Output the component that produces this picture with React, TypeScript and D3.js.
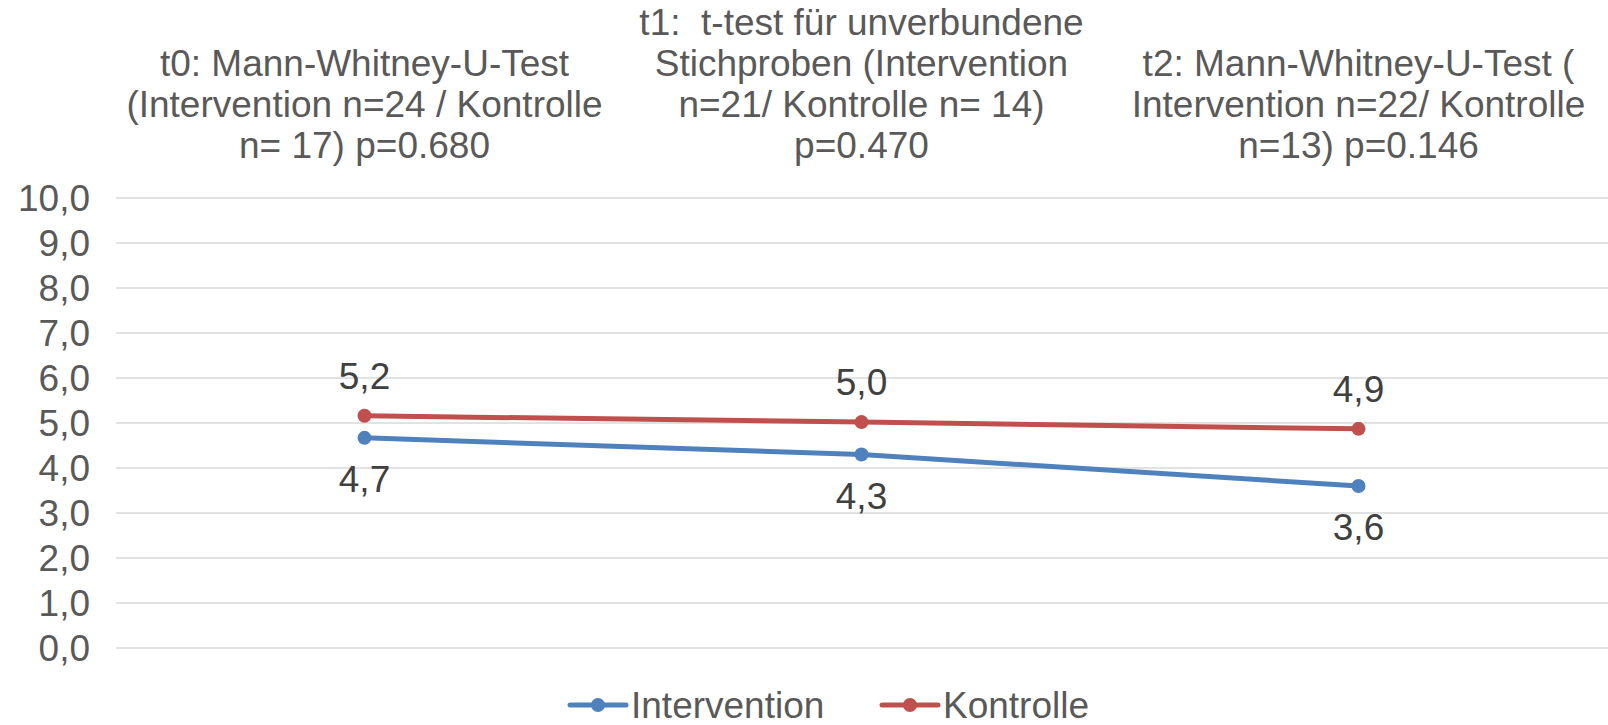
import React from "react";
import * as d3 from "d3";

// header labels over each time point (one string per line)
const categories = ["t0", "t1", "t2"];
const categoryLabels = [
  ["t0: Mann-Whitney-U-Test", "(Intervention n=24 / Kontrolle", "n= 17) p=0.680"],
  ["t1:\u00a0 t-test für unverbundene", "Stichproben (Intervention", "n=21/ Kontrolle n= 14)", "p=0.470"],
  ["t2: Mann-Whitney-U-Test (", "Intervention n=22/ Kontrolle", "n=13) p=0.146"],
];
const interventionValues = [4.67, 4.3, 3.6];
const kontrolleValues = [5.16, 5.02, 4.87];
const yTicks = [0, 1, 2, 3, 4, 5, 6, 7, 8, 9, 10];
const seriesNames = ["Intervention", "Kontrolle"];

const W = 1608;
const H = 725;
const FONT = "'Liberation Sans', Arial, sans-serif";
const TEXT = "#595959";
const BLUE = "#4f81bd";
const RED = "#c0504d";

export default function App() {
  const x = d3.scalePoint<string>().domain(categories).range([116, 1607]).padding(0.5);
  const y = d3.scaleLinear().domain([0, 10]).range([648, 198]);
  const line = d3.line<number>()
    .x((d, i) => x(categories[i])!)
    .y(d => y(d));
  const fmt = (v: number) => v.toFixed(1).replace(".", ",");

  const series = [
    { name: seriesNames[0], values: interventionValues, color: BLUE, dy: 41 },
    { name: seriesNames[1], values: kontrolleValues, color: RED, dy: -40 },
  ];

  return (
    <svg width={W} height={H} style={{ position: "absolute", left: 0, top: 0, background: "#fff" }}
      fontFamily={FONT}>
      {/* grid + y labels */}
      {yTicks.map(t => (
        <g key={t}>
          <line x1={116} x2={1608} y1={y(t)} y2={y(t)} stroke="#d9d9d9" strokeWidth={1.5} />
          <text x={90} y={y(t)} dy="0.36em" textAnchor="end" fontSize={37} fill={TEXT}>{fmt(t)}</text>
        </g>
      ))}

      {/* category headers */}
      {categoryLabels.map((lines, i) => (
        <text key={i} textAnchor="middle" fontSize={37} fill={TEXT}>
          {lines.map((s, j) => (
            <tspan key={j} x={x(categories[i])} y={158 - (lines.length - 1 - j) * 41}>{s}</tspan>
          ))}
        </text>
      ))}

      {series.map(s => (
        <g key={s.name}>
          <path d={line(s.values)!} fill="none" stroke={s.color} strokeWidth={5} strokeLinecap="round" />
          {s.values.map((v, i) => (
            <g key={i}>
              <circle cx={x(categories[i])} cy={y(v)} r={7} fill={s.color} />
              <text x={x(categories[i])} y={y(v) + s.dy} dy="0.36em" textAnchor="middle"
                fontSize={37} fill="#404040">{fmt(v)}</text>
            </g>
          ))}
        </g>
      ))}

      {/* legend */}
      {series.map((s, i) => {
        const lx = i === 0 ? 570 : 882;
        return (
          <g key={s.name}>
            <line x1={lx} x2={lx + 56} y1={705} y2={705} stroke={s.color} strokeWidth={5} strokeLinecap="round" />
            <circle cx={lx + 28} cy={705} r={7} fill={s.color} />
            <text x={lx + 61} y={705} dy="0.36em" fontSize={37} fill={TEXT}>{s.name}</text>
          </g>
        );
      })}
    </svg>
  );
}
